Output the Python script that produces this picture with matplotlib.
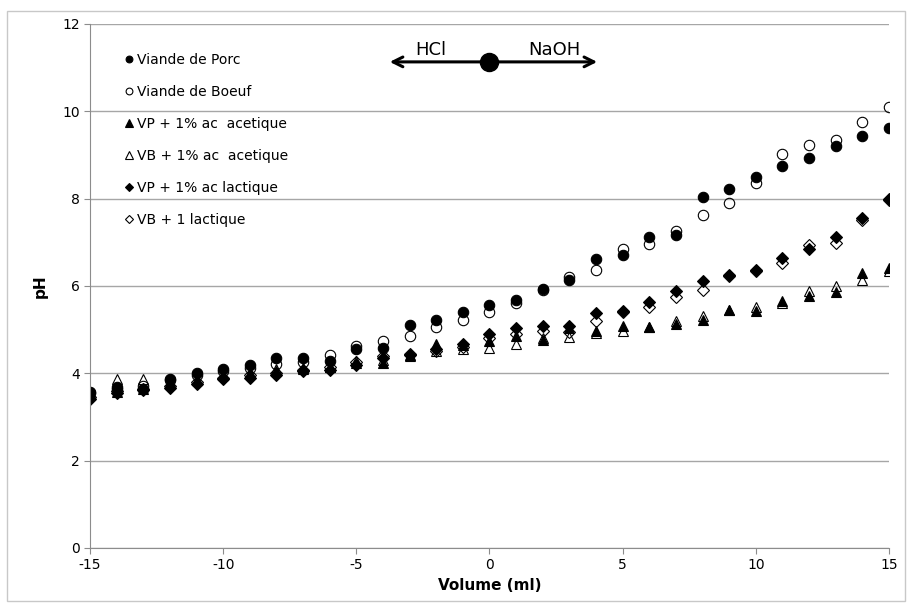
import numpy as np
import matplotlib
matplotlib.use('Agg')
import matplotlib.pyplot as plt
from matplotlib.patches import Rectangle

volume = np.arange(-15, 16)

porc = [3.58, 3.69, 3.63, 3.86, 4.01, 4.09, 4.18, 4.34, 4.36, 4.28, 4.56, 4.59, 5.11, 5.22, 5.40, 5.56,
        5.68, 5.93, 6.14, 6.62, 6.70, 7.12, 7.17, 8.04, 8.21, 8.49, 8.75, 8.92, 9.20, 9.44, 9.62]
boeuf = [3.55, 3.65, 3.70, 3.85, 3.95, 4.05, 4.12, 4.22, 4.26, 4.43, 4.62, 4.74, 4.86, 5.05, 5.21, 5.40,
         5.62, 5.90, 6.20, 6.37, 6.85, 6.97, 7.25, 7.62, 7.89, 8.36, 9.01, 9.23, 9.35, 9.75, 10.09]
vp_acet = [3.50, 3.58, 3.65, 3.75, 3.85, 3.95, 4.00, 4.05, 4.12, 4.15, 4.23, 4.24, 4.42, 4.66, 4.65, 4.74,
           4.86, 4.76, 5.03, 4.97, 5.09, 5.06, 5.14, 5.22, 5.45, 5.43, 5.65, 5.78, 5.85, 6.29, 6.42]
vb_acet = [3.55, 3.86, 3.87, 3.80, 3.85, 3.95, 4.00, 4.10, 4.10, 4.15, 4.28, 4.30, 4.40, 4.50, 4.55, 4.59,
           4.68, 4.80, 4.83, 4.92, 4.97, 5.05, 5.20, 5.32, 5.45, 5.52, 5.60, 5.89, 6.00, 6.14, 6.34]
vp_lact = [3.42, 3.55, 3.62, 3.67, 3.75, 3.88, 3.90, 3.96, 4.06, 4.08, 4.20, 4.35, 4.42, 4.55, 4.67, 4.91,
           5.03, 5.08, 5.09, 5.39, 5.43, 5.64, 5.89, 6.12, 6.26, 6.37, 6.64, 6.85, 7.11, 7.56, 7.99]
vb_lact = [3.45, 3.60, 3.65, 3.70, 3.80, 3.90, 3.95, 4.00, 4.08, 4.15, 4.25, 4.40, 4.45, 4.50, 4.60, 4.80,
           4.90, 4.96, 4.95, 5.20, 5.40, 5.52, 5.74, 5.91, 6.22, 6.35, 6.52, 6.94, 6.98, 7.52, 7.96]

labels = ['Viande de Porc', 'Viande de Boeuf', 'VP + 1% ac  acetique',
          'VB + 1% ac  acetique', 'VP + 1% ac lactique', 'VB + 1 lactique']

plt.rcParams['font.family'] = 'DejaVu Sans'
plt.rcParams['axes.unicode_minus'] = False

fig = plt.figure(figsize=(9.12, 6.08), dpi=100)
ax = fig.add_axes([0.0987, 0.0987, 0.876, 0.862])

fig.patches.append(Rectangle((0.008, 0.012), 0.984, 0.97, transform=fig.transFigure,
                             fill=False, edgecolor='#c8c8c8', lw=1))

series = [
    (porc, 'o', 'black', 7.5),
    (boeuf, 'o', 'none', 7.5),
    (vp_acet, '^', 'black', 7.8),
    (vb_acet, '^', 'none', 7.8),
    (vp_lact, 'D', 'black', 5.8),
    (vb_lact, 'D', 'none', 5.8),
]
for (vals, m, fc, ms), lab in zip(series, labels):
    ax.plot(volume, vals, linestyle='none', marker=m, markersize=ms,
            markerfacecolor=fc, markeredgecolor='black', markeredgewidth=0.8, label=lab)

ax.set_xlim(-15, 15)
ax.set_ylim(0, 12)
ax.set_xticks(np.arange(-15, 16, 5))
ax.set_yticks(np.arange(0, 13, 2))
ax.yaxis.grid(True, color='#a6a6a6', lw=1)
ax.set_axisbelow(True)
for s in ['top', 'right']:
    ax.spines[s].set_visible(False)
for s in ['left', 'bottom']:
    ax.spines[s].set_color('#8c8c8c')
ax.tick_params(colors='#8c8c8c', labelcolor='black', labelsize=10, length=4)

ax.set_xlabel('Volume (ml)', fontsize=11, fontweight='bold', labelpad=4)
ax.set_ylabel('pH', fontsize=11, fontweight='bold', labelpad=10)

leg = ax.legend(loc='upper left', bbox_to_anchor=(0.035, 0.956), frameon=False, fontsize=10,
                markerscale=0.65, handlelength=0.8, handletextpad=0.15, labelspacing=1.3,
                borderaxespad=0)

# arrow HCl / NaOH
ay = 11.13
ax.annotate('', xy=(-3.85, ay), xytext=(4.15, ay),
            arrowprops=dict(arrowstyle='<->,head_length=0.7,head_width=0.35', color='black', lw=2.2))
ax.plot([0], [ay], marker='o', markersize=13, color='black')
ax.text(-2.2, ay + 0.06, 'HCl', fontsize=13, ha='center', va='bottom')
ax.text(2.45, ay + 0.06, 'NaOH', fontsize=13, ha='center', va='bottom')

fig.savefig('out.png', dpi=100)
